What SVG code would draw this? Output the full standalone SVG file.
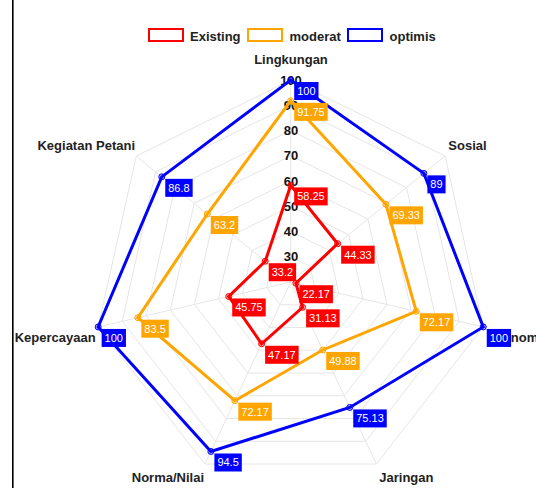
<svg xmlns="http://www.w3.org/2000/svg" width="536" height="488" viewBox="0 0 536 488">
<style>
.grid{fill:none;stroke:#e6e6e6;stroke-width:1}
.tick{font-family:"Liberation Sans",Arial,sans-serif;font-size:13px;font-weight:bold;fill:#111;text-anchor:middle}
.plab{font-family:"Liberation Sans",Arial,sans-serif;font-size:13px;font-weight:bold;fill:#222}
.leg{font-family:"Liberation Sans",Arial,sans-serif;font-size:13px;font-weight:bold;fill:#222}
.ser{fill:none;stroke-width:3;stroke-linejoin:miter}
.dl{font-family:"Liberation Sans",Arial,sans-serif;font-size:11px;fill:#fff;text-anchor:middle}
.r{stroke:#ff0000}.o{stroke:#ffa500}.b{stroke:#0000ff}
.rf{fill:#ff0000}.of{fill:#ffa500}.bf{fill:#0000ff}
</style>
<rect x="0" y="0" width="536" height="488" fill="#fff"/>
<rect x="12" y="0" width="1.6" height="488" fill="#000"/>

<g id="grid">
<polygon class="grid" points="290.7,256.75 310,266.26 314.77,287.62 301.41,304.75 279.99,304.75 266.63,287.62 271.4,266.26"/>
<polygon class="grid" points="290.7,231.5 329.3,250.51 338.84,293.24 312.12,327.5 269.28,327.5 242.56,293.24 252.1,250.51"/>
<polygon class="grid" points="290.7,206.25 348.6,234.77 362.91,298.86 322.83,350.25 258.57,350.25 218.49,298.86 232.8,234.77"/>
<polygon class="grid" points="290.7,181 367.91,219.03 386.98,304.48 333.55,373 247.85,373 194.42,304.48 213.49,219.03"/>
<polygon class="grid" points="290.7,155.75 387.21,203.29 411.04,310.09 344.26,395.75 237.14,395.75 170.36,310.09 194.19,203.29"/>
<polygon class="grid" points="290.7,130.5 406.51,187.54 435.11,315.71 354.97,418.5 226.43,418.5 146.29,315.71 174.89,187.54"/>
<polygon class="grid" points="290.7,105.25 425.81,171.8 459.18,321.33 365.68,441.25 215.72,441.25 122.22,321.33 155.59,171.8"/>
<polygon class="grid" points="290.7,80 445.11,156.06 483.25,326.95 376.39,464 205.01,464 98.15,326.95 136.29,156.06"/>
<path class="grid" d="M290.7,282L290.7,80M290.7,282L445.11,156.06M290.7,282L483.25,326.95M290.7,282L376.39,464M290.7,282L205.01,464M290.7,282L98.15,326.95M290.7,282L136.29,156.06"/>
</g>

<g id="ticks">
<text class="tick" x="291" y="261.25">30</text>
<text class="tick" x="291" y="236">40</text>
<text class="tick" x="291" y="210.75">50</text>
<text class="tick" x="291" y="185.5">60</text>
<text class="tick" x="291" y="160.25">70</text>
<text class="tick" x="291" y="135">80</text>
<text class="tick" x="291" y="109.75">90</text>
<text class="tick" x="291" y="84.5">100</text>
</g>

<g id="axis-labels">
<text id="lbl-lingkungan" class="plab" x="291" y="63.5" text-anchor="middle">Lingkungan</text>
<text id="lbl-sosial" class="plab" x="448.3" y="150">Sosial</text>
<text id="lbl-ekonomi" class="plab" x="487" y="342">Ekonomi</text>
<text id="lbl-jaringan" class="plab" x="379.3" y="482">Jaringan</text>
<text id="lbl-norma" class="plab" x="204" y="482" text-anchor="end">Norma/Nilai</text>
<text id="lbl-kepercayaan" class="plab" x="95.7" y="342" text-anchor="end">Kepercayaan</text>
<text id="lbl-kegiatan" class="plab" x="135" y="150" text-anchor="end">Kegiatan Petani</text>
</g>

<g id="legend">
<g id="leg-existing"><rect x="149" y="29" width="34" height="12" fill="#fff" stroke="#ff0000" stroke-width="2"/><text class="leg" x="190" y="40.5">Existing</text></g>
<g id="leg-moderat"><rect x="248" y="29" width="34" height="12" fill="#fff" stroke="#ffa500" stroke-width="2"/><text class="leg" x="289.5" y="40.5">moderat</text></g>
<g id="leg-optimis"><rect x="348" y="29" width="34" height="12" fill="#fff" stroke="#0000ff" stroke-width="2"/><text class="leg" x="389.5" y="40.5">optimis</text></g>
</g>

<g id="series-lines">
<polygon id="line-existing" class="ser r" points="290.7,185.42 337.66,243.7 295.92,283.22 302.62,307.32 261.62,343.77 228.72,296.47 265.22,261.22"/>
<polygon id="line-moderat" class="ser o" points="290.7,100.83 385.91,204.34 416.27,311.31 322.71,349.98 234.82,400.68 137.86,317.68 207.32,213.99"/>
<polygon id="line-optimis" class="ser b" points="290.7,80 423.88,173.37 483.25,326.95 349.75,407.42 210.9,451.49 98.15,326.95 161.76,176.84"/>
</g>

<g id="points" stroke-width="1">
<g fill="rgba(255,0,0,0.3)" stroke="#ff0000">
<circle cx="290.7" cy="185.42" r="3"/><circle cx="337.66" cy="243.7" r="3"/><circle cx="295.92" cy="283.22" r="3"/><circle cx="302.62" cy="307.32" r="3"/><circle cx="261.62" cy="343.77" r="3"/><circle cx="228.72" cy="296.47" r="3"/><circle cx="265.22" cy="261.22" r="3"/>
</g>
<g fill="rgba(255,165,0,0.3)" stroke="#ffa500">
<circle cx="290.7" cy="100.83" r="3"/><circle cx="385.91" cy="204.34" r="3"/><circle cx="416.27" cy="311.31" r="3"/><circle cx="322.71" cy="349.98" r="3"/><circle cx="234.82" cy="400.68" r="3"/><circle cx="137.86" cy="317.68" r="3"/><circle cx="207.32" cy="213.99" r="3"/>
</g>
<g fill="rgba(0,0,255,0.3)" stroke="#0000ff">
<circle cx="290.7" cy="80" r="3"/><circle cx="423.88" cy="173.37" r="3"/><circle cx="483.25" cy="326.95" r="3"/><circle cx="349.75" cy="407.42" r="3"/><circle cx="210.9" cy="451.49" r="3"/><circle cx="98.15" cy="326.95" r="3"/><circle cx="161.76" cy="176.84" r="3"/>
</g>
</g>

<g id="labels-existing">
<rect class="rf" x="294.2" y="187.42" width="33.5" height="18"/><text class="dl" x="310.95" y="200.42">58.25</text>
<rect class="rf" x="341.16" y="245.7" width="33.5" height="18"/><text class="dl" x="357.91" y="258.7">44.33</text>
<rect class="rf" x="299.42" y="285.22" width="33.5" height="18"/><text class="dl" x="316.17" y="298.22">22.17</text>
<rect class="rf" x="306.12" y="309.32" width="33.5" height="18"/><text class="dl" x="322.87" y="322.32">31.13</text>
<rect class="rf" x="265.12" y="345.77" width="33.5" height="18"/><text class="dl" x="281.87" y="358.77">47.17</text>
<rect class="rf" x="232.22" y="298.47" width="33.5" height="18"/><text class="dl" x="248.97" y="311.47">45.75</text>
<rect class="rf" x="268.72" y="263.22" width="27.4" height="18"/><text class="dl" x="282.42" y="276.22">33.2</text>
</g>
<g id="labels-moderat">
<rect class="of" x="294.2" y="102.83" width="33.5" height="18"/><text class="dl" x="310.95" y="115.83">91.75</text>
<rect class="of" x="389.41" y="206.34" width="33.5" height="18"/><text class="dl" x="406.16" y="219.34">69.33</text>
<rect class="of" x="419.77" y="313.31" width="33.5" height="18"/><text class="dl" x="436.52" y="326.31">72.17</text>
<rect class="of" x="326.21" y="351.98" width="33.5" height="18"/><text class="dl" x="342.96" y="364.98">49.88</text>
<rect class="of" x="238.32" y="402.68" width="33.5" height="18"/><text class="dl" x="255.07" y="415.68">72.17</text>
<rect class="of" x="141.36" y="319.68" width="27.4" height="18"/><text class="dl" x="155.06" y="332.68">83.5</text>
<rect class="of" x="210.82" y="215.99" width="27.4" height="18"/><text class="dl" x="224.52" y="228.99">63.2</text>
</g>
<g id="labels-optimis">
<rect class="bf" x="294.2" y="82" width="24.3" height="18"/><text class="dl" x="306.35" y="95">100</text>
<rect class="bf" x="427.38" y="175.37" width="18.2" height="18"/><text class="dl" x="436.48" y="188.37">89</text>
<rect class="bf" x="486.75" y="328.95" width="24.3" height="18"/><text class="dl" x="498.9" y="341.95">100</text>
<rect class="bf" x="353.25" y="409.42" width="33.5" height="18"/><text class="dl" x="370" y="422.42">75.13</text>
<rect class="bf" x="214.4" y="453.49" width="27.4" height="18"/><text class="dl" x="228.1" y="466.49">94.5</text>
<rect class="bf" x="101.65" y="328.95" width="24.3" height="18"/><text class="dl" x="113.8" y="341.95">100</text>
<rect class="bf" x="165.26" y="178.84" width="27.4" height="18"/><text class="dl" x="178.96" y="191.84">86.8</text>
</g>
</svg>
